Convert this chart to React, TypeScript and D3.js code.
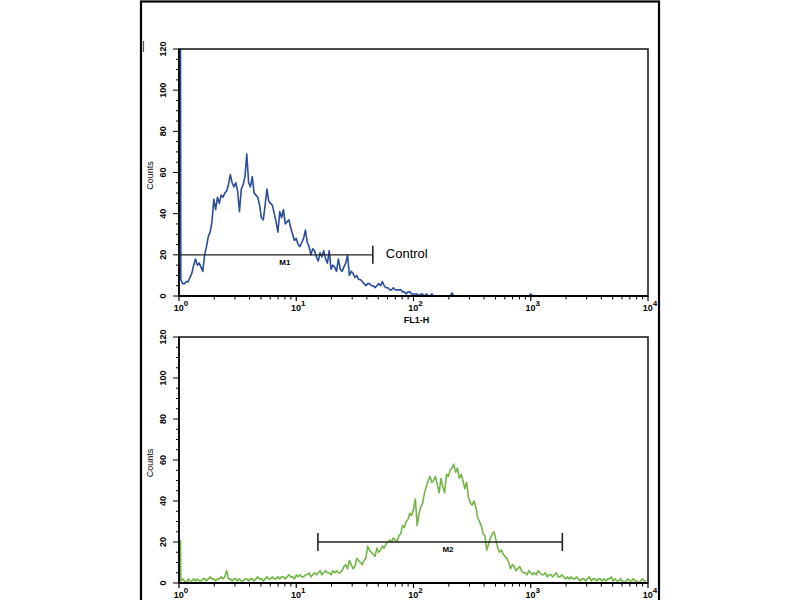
import { useEffect, useRef } from 'react';
import * as d3 from 'd3';

// 256-bin histograms over four decades (64 bins per decade), counts
const BINS_PER_DECADE = 64;

const controlCounts = [
  130, 8, 6, 6, 7, 7, 9, 11, 15, 18,
  15, 16, 14, 12, 20, 24, 29, 31, 36, 47,
  42, 48, 45, 49, 48, 50, 51, 54, 59, 55,
  53, 55, 51, 41, 52, 54, 58, 69, 55, 53,
  58, 50, 49, 48, 44, 38, 37, 44, 52, 46,
  45, 44, 40, 36, 31, 41, 38, 42, 35, 36,
  37, 33, 30, 27, 28, 25, 24, 26, 28, 32,
  26, 24, 20, 23, 22, 19, 17, 21, 19, 22,
  18, 16, 22, 13, 15, 14, 12, 18, 13, 12,
  14, 16, 20, 10, 12, 11, 9, 10, 8, 8,
  7, 6, 5, 6, 6, 5, 5, 4, 5, 6,
  5, 7, 5, 4, 4, 3, 3, 4, 3, 3,
  3, 3, 2, 2, 1, 2, 2, 1, 1, 1,
  1, 0, 1, 1, 0, 1, 0, 0, 1, 0,
  0, 0, 0, 0, 0, 0, 0, 0, 0, 1.5,
  0, 0, 0, 0, 0, 0, 0, 0, 0, 0,
  0, 0, 0, 0, 0, 0, 0, 0, 0, 0,
  0, 0, 0, 0, 0, 0, 0, 0, 0, 0,
  0, 0, 0, 0, 0, 0, 0, 0, 0, 0,
  0, 0, 1, 0, 0, 0, 0, 0, 0, 0,
  0, 0, 0, 0, 0, 0, 0, 0, 0, 0,
  0, 0, 0, 0, 0, 0, 0, 0, 0, 0,
  0, 0, 0, 0, 0, 0, 0, 0, 0, 0,
  0, 0, 0, 0, 0, 0, 0, 0, 0, 0,
  0, 0, 0, 0, 0, 0, 0, 0, 0, 0,
  0, 0, 0, 0, 0, 0,
];

const sampleCounts = [
  21, 1, 2, 1, 0, 2, 1, 1, 2, 1,
  2, 1, 1, 2, 2, 1, 2, 3, 2, 2,
  1, 2, 2, 3, 2, 3, 6, 2, 2, 1,
  2, 2, 1, 2, 1, 1, 2, 2, 1, 2,
  2, 1, 2, 3, 2, 2, 1, 2, 3, 2,
  2, 3, 2, 2, 3, 2, 3, 3, 2, 3,
  4, 3, 3, 2, 4, 3, 4, 3, 3, 4,
  4, 5, 3, 4, 5, 4, 5, 6, 4, 5,
  6, 5, 5, 4, 6, 5, 6, 5, 5, 6,
  8, 9, 7, 11, 9, 7, 8, 12, 11, 10,
  9, 11, 12, 18, 16, 15, 14, 13, 17, 15,
  16, 18, 17, 19, 20, 21, 20, 22, 21, 20,
  23, 24, 28, 27, 30, 31, 34, 33, 36, 41,
  28, 34, 37, 39, 44, 47, 50, 52, 49, 50,
  52, 48, 44, 51, 47, 44, 53, 52, 55, 56,
  58, 54, 56, 51, 53, 50, 46, 49, 42, 39,
  38, 40, 37, 32, 30, 28, 24, 23, 16, 19,
  22, 24, 25, 21, 17, 15, 16, 14, 13, 12,
  10, 7, 9, 8, 6, 7, 8, 6, 5, 5,
  4, 6, 5, 4, 5, 4, 6, 5, 4, 4,
  5, 3, 4, 4, 3, 4, 5, 3, 3, 4,
  3, 2, 3, 2, 3, 2, 2, 3, 2, 1,
  2, 2, 1, 2, 3, 1, 2, 2, 1, 2,
  2, 1, 2, 1, 2, 2, 3, 1, 2, 1,
  1, 2, 1, 0, 1, 2, 1, 1, 2, 1,
  1, 0, 1, 2, 1, 1,
];

const countTicks = [0, 20, 40, 60, 80, 100, 120];
const decadeTicks = [1, 10, 100, 1000, 10000];
const markerNames = ['M1', 'M2'];
const markerRanges = [[1, 45], [15.3, 1860]];
const markerLabelAt = [8, 197];
const markerLevel = 20;

const FONT = '"Liberation Sans", Arial, sans-serif';

export default function App() {
  const svgRef = useRef<SVGSVGElement>(null);

  useEffect(() => {
    if (!svgRef.current) return;
    const svg = d3.select(svgRef.current);
    svg.selectAll('*').remove();

    svg.append('rect').attr('width', 800).attr('height', 600).attr('fill', '#fff');

    // outer frame of the figure
    svg
      .append('rect')
      .attr('x', 141)
      .attr('y', 1.5)
      .attr('width', 518)
      .attr('height', 610)
      .attr('fill', 'none')
      .attr('stroke', '#000')
      .attr('stroke-width', 2.2);

    svg
      .append('line')
      .attr('x1', 143.5)
      .attr('x2', 143.5)
      .attr('y1', 41)
      .attr('y2', 52)
      .attr('stroke', '#555')
      .attr('stroke-width', 1.2);

    const x = d3.scaleLog().domain([1, 10000]).range([179, 648]);

    const panels = [
      { counts: controlCounts, color: '#2b4c9c', top: 49, bottom: 296, marker: 0, xLabel: true, note: 'Control' },
      { counts: sampleCounts, color: '#74b646', top: 337, bottom: 583, marker: 1, xLabel: false, note: '' },
    ];

    panels.forEach((p, pi) => {
      const y = d3.scaleLinear().domain([0, 120]).range([p.bottom, p.top]);
      const g = svg.append('g');

      const clipId = `clip-${pi}`;
      svg
        .append('clipPath')
        .attr('id', clipId)
        .append('rect')
        .attr('x', x(1))
        .attr('y', p.top)
        .attr('width', x(10000) - x(1))
        .attr('height', p.bottom - p.top);

      const line = d3
        .line<number>()
        .x((_, i) => x(Math.pow(10, i / BINS_PER_DECADE)) + (i === 0 ? 1.5 : 0))
        .y((d) => y(d));

      g.append('path')
        .datum(p.counts)
        .attr('clip-path', `url(#${clipId})`)
        .attr('fill', 'none')
        .attr('stroke', p.color)
        .attr('stroke-width', 1.6)
        .attr('stroke-linejoin', 'round')
        .attr('d', line);

      // plot frame
      g.append('rect')
        .attr('x', x(1))
        .attr('y', p.top)
        .attr('width', x(10000) - x(1))
        .attr('height', p.bottom - p.top)
        .attr('fill', 'none')
        .attr('stroke', '#000')
        .attr('stroke-width', 1.4);

      g.append('line')
        .attr('x1', x(1))
        .attr('x2', x(10000))
        .attr('y1', p.bottom)
        .attr('y2', p.bottom)
        .attr('stroke', '#000')
        .attr('stroke-width', 2);

      g.append('line')
        .attr('x1', x(1))
        .attr('x2', x(1))
        .attr('y1', p.top)
        .attr('y2', p.bottom)
        .attr('stroke', '#000')
        .attr('stroke-width', 1.6);

      // y ticks, minor every 5
      const minorY = d3.range(0, 121, 5);
      g.selectAll('.ytick')
        .data(minorY)
        .enter()
        .append('line')
        .attr('x1', (d) => x(1) - (d % 20 === 0 ? 6 : 3))
        .attr('x2', x(1))
        .attr('y1', (d) => y(d))
        .attr('y2', (d) => y(d))
        .attr('stroke', '#000')
        .attr('stroke-width', 1);

      g.selectAll('.ylab')
        .data(countTicks)
        .enter()
        .append('text')
        .attr('transform', (d) => `translate(163,${y(d)}) rotate(-90)`)
        .attr('text-anchor', 'middle')
        .attr('dominant-baseline', 'central')
        .style('font-family', FONT)
        .style('font-size', '9px')
        .style('font-weight', 'bold')
        .text((d) => d);

      g.append('text')
        .attr('transform', `translate(150,${(p.top + p.bottom) / 2 + 3}) rotate(-90)`)
        .attr('text-anchor', 'middle')
        .attr('dominant-baseline', 'central')
        .style('font-family', FONT)
        .style('font-size', '9px')
        .text('Counts');

      // x ticks: decades and 2..9 minors
      const minorX: number[] = [];
      decadeTicks.slice(0, -1).forEach((d) => {
        for (let k = 2; k <= 9; k++) minorX.push(d * k);
      });
      g.selectAll('.xminor')
        .data(minorX)
        .enter()
        .append('line')
        .attr('x1', (d) => x(d))
        .attr('x2', (d) => x(d))
        .attr('y1', p.bottom)
        .attr('y2', p.bottom + 3.5)
        .attr('stroke', '#000')
        .attr('stroke-width', 1);

      g.selectAll('.xmajor')
        .data(decadeTicks)
        .enter()
        .append('line')
        .attr('x1', (d) => x(d))
        .attr('x2', (d) => x(d))
        .attr('y1', p.bottom)
        .attr('y2', p.bottom + 5)
        .attr('stroke', '#000')
        .attr('stroke-width', 1.2);

      const xl = g
        .selectAll('.xlab')
        .data(decadeTicks)
        .enter()
        .append('text')
        .attr('x', (d) => x(d) + 2)
        .attr('y', p.bottom + 14.5)
        .attr('text-anchor', 'middle')
        .style('font-family', FONT)
        .style('font-size', '9px')
        .style('font-weight', 'bold');
      xl.append('tspan').text('10');
      xl.append('tspan')
        .attr('dy', -5)
        .style('font-size', '8px')
        .text((d) => String(Math.round(Math.log10(d))));

      if (p.xLabel) {
        g.append('text')
          .attr('x', x(100) + 3)
          .attr('y', p.bottom + 27)
          .attr('text-anchor', 'middle')
          .style('font-family', FONT)
          .style('font-size', '9px')
          .style('font-weight', 'bold')
          .text('FL1-H');
      }

      // marker gate
      const [m0, m1] = markerRanges[p.marker];
      const my = y(markerLevel);
      g.append('line')
        .attr('x1', x(m0))
        .attr('x2', x(m1))
        .attr('y1', my)
        .attr('y2', my)
        .attr('stroke', '#222')
        .attr('stroke-width', 1.3);
      [m0, m1].forEach((m) => {
        g.append('line')
          .attr('x1', x(m))
          .attr('x2', x(m))
          .attr('y1', my - 9)
          .attr('y2', my + 9)
          .attr('stroke', '#222')
          .attr('stroke-width', 1.6);
      });
      g.append('text')
        .attr('x', x(markerLabelAt[p.marker]))
        .attr('y', my + 10)
        .attr('text-anchor', 'middle')
        .style('font-family', FONT)
        .style('font-size', '8px')
        .style('font-weight', 'bold')
        .text(markerNames[p.marker]);

      if (p.note) {
        g.append('text')
          .attr('x', x(m1) + 13)
          .attr('y', my + 3.5)
          .style('font-family', FONT)
          .style('font-size', '13px')
          .text(p.note);
      }
    });
  }, []);

  return (
    <svg
      ref={svgRef}
      width={800}
      height={600}
      style={{ position: 'absolute', left: 0, top: 0, display: 'block' }}
    />
  );
}
